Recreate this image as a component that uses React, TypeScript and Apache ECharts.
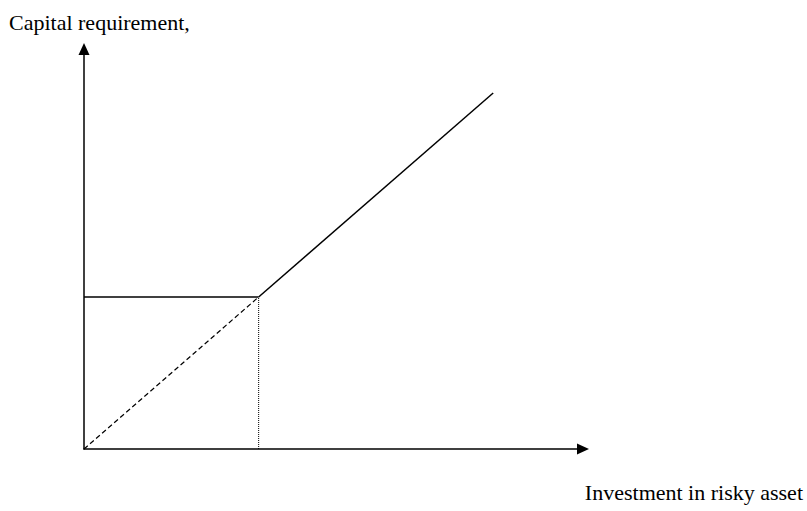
import React, { useEffect, useRef } from "react";
import * as echarts from "echarts";

const yAxisTitle = "Capital requirement,";
const xAxisTitle = "Investment in risky asset";

// conceptual units (0..100 on both axes)
const flatSegment: [number, number][] = [[0, 38], [35, 38]];
const risingSegment: [number, number][] = [[35, 38], [82, 89]];
const dashedSegment: [number, number][] = [[0, 0], [35, 38]];
const dottedSegment: [number, number][] = [[35, 0], [35, 38]];

export default function App() {
  const ref = useRef<HTMLDivElement>(null);
  useEffect(() => {
    if (!ref.current) return;
    const chart = echarts.init(ref.current, undefined, { renderer: "svg" });
    const axisCommon = {
      type: "value" as const,
      min: 0,
      max: 100,
      splitLine: { show: false },
      axisTick: { show: false },
      axisLabel: { show: false },
      axisLine: {
        show: true,
        onZero: false,
        symbol: ["none", "triangle"],
        symbolSize: [11, 12],
        lineStyle: { color: "#000", width: 1.5 },
      },
    };
    chart.setOption({
      animation: false,
      backgroundColor: "#fff",
      grid: { left: 84, right: 224, top: 49, bottom: 62 },
      xAxis: { ...axisCommon },
      yAxis: { ...axisCommon },
      graphic: [
        {
          type: "text",
          left: 9,
          top: 11,
          style: {
            text: yAxisTitle,
            font: '22px "Liberation Serif", "Times New Roman", serif',
            fill: "#000",
          },
        },
        {
          type: "text",
          right: 4,
          top: 481,
          style: {
            text: xAxisTitle,
            font: '22px "Liberation Serif", "Times New Roman", serif',
            fill: "#000",
          },
        },
      ],
      series: [
        {
          type: "line",
          data: flatSegment,
          symbol: "none",
          lineStyle: { color: "#000", width: 1.5 },
        },
        {
          type: "line",
          data: risingSegment,
          symbol: "none",
          lineStyle: { color: "#000", width: 1.5 },
        },
        {
          type: "line",
          data: dashedSegment,
          symbol: "none",
          lineStyle: { color: "#000", width: 1.2, type: [5, 3] },
        },
        {
          type: "line",
          data: dottedSegment,
          symbol: "none",
          lineStyle: { color: "#000", width: 1, type: [1, 1] },
        },
      ],
    });
    return () => chart.dispose();
  }, []);
  return (
    <div
      ref={ref}
      style={{ position: "absolute", left: 0, top: 0, width: 807, height: 511 }}
    />
  );
}
